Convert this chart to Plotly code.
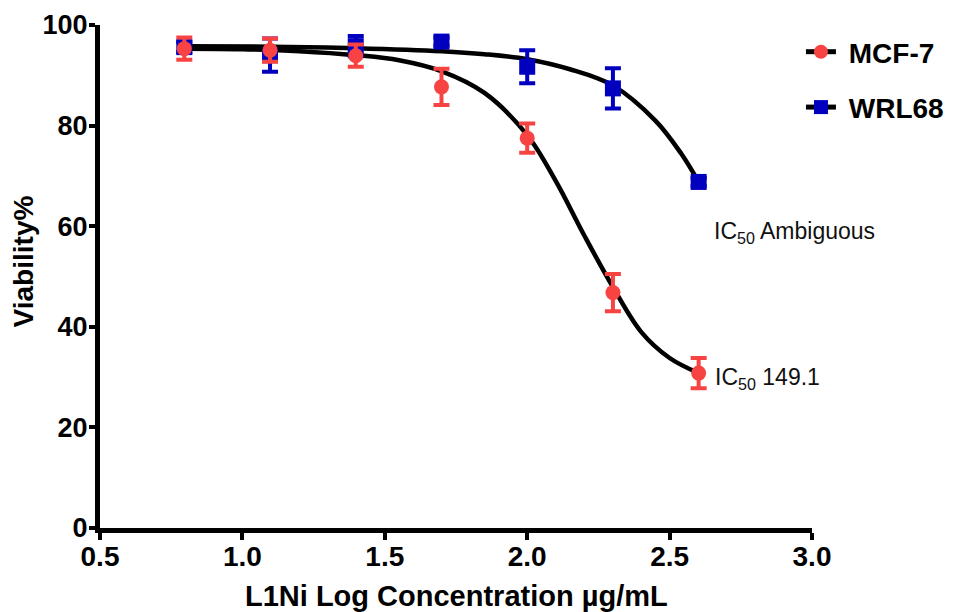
import plotly.graph_objects as go

# Measured points (log concentration, viability %, SEM)
log_conc = [0.796, 1.097, 1.398, 1.699, 2.0, 2.301, 2.602]

mcf7_y = [95.3, 95.0, 93.9, 87.7, 77.5, 46.8, 30.8]
mcf7_err = [2.2, 2.3, 2.2, 3.6, 2.9, 3.7, 3.0]

wrl68_y = [95.6, 94.0, 95.8, 96.7, 91.7, 87.4, 68.8]
wrl68_err = [1.0, 3.3, 2.0, 0.8, 3.3, 4.0, 0.8]

# Fitted curves
mcf7_fit_x = [0.796, 1.0, 1.2, 1.4, 1.55, 1.7, 1.85, 2.0, 2.1, 2.2, 2.3, 2.4, 2.5, 2.602]
mcf7_fit_y = [95.3, 95.2, 94.8, 94.0, 93.0, 90.8, 86.5, 78.1, 69.0, 58.2, 48.0, 39.0, 33.8, 30.8]

wrl68_fit_x = [0.796, 1.1, 1.4, 1.7, 1.85, 2.0, 2.15, 2.3, 2.45, 2.54, 2.602]
wrl68_fit_y = [95.8, 95.7, 95.4, 94.8, 94.2, 93.2, 91.2, 88.0, 81.0, 74.5, 68.8]

x_ticks = [0.5, 1.0, 1.5, 2.0, 2.5, 3.0]
y_ticks = [0, 20, 40, 60, 80, 100]

RED = "#F84343"
BLUE = "#0000BE"
FONT = "Liberation Sans, Arial, sans-serif"

fig = go.Figure()

# fit curves
fig.add_trace(go.Scatter(x=mcf7_fit_x, y=mcf7_fit_y, mode="lines",
                         line=dict(color="black", width=4.5, shape="spline"),
                         showlegend=False, hoverinfo="skip"))
fig.add_trace(go.Scatter(x=wrl68_fit_x, y=wrl68_fit_y, mode="lines",
                         line=dict(color="black", width=4.5, shape="spline"),
                         showlegend=False, hoverinfo="skip"))

# data points
fig.add_trace(go.Scatter(x=log_conc, y=wrl68_y, mode="markers",
                         marker=dict(symbol="square", size=16, color=BLUE),
                         error_y=dict(type="data", array=wrl68_err, color=BLUE,
                                      thickness=4, width=8),
                         showlegend=False))
fig.add_trace(go.Scatter(x=log_conc, y=mcf7_y, mode="markers",
                         marker=dict(symbol="circle", size=15, color=RED),
                         error_y=dict(type="data", array=mcf7_err, color=RED,
                                      thickness=4, width=8),
                         showlegend=False))

# legend entries
fig.add_trace(go.Scatter(x=[None], y=[None], mode="lines+markers", name="\u00a0MCF-7",
                         line=dict(color="black", width=5),
                         marker=dict(symbol="circle", size=14, color=RED),
                         legendgroup="a", legendrank=1))
fig.add_trace(go.Scatter(x=[None], y=[None], mode="lines+markers", name="\u00a0WRL68",
                         line=dict(color="black", width=5),
                         marker=dict(symbol="square", size=14, color=BLUE),
                         legendgroup="b", legendrank=2))

fig.add_annotation(x=2.65, y=58.8, xref="x", yref="y", xanchor="left",
                   text="IC<sub>50</sub> Ambiguous", showarrow=False,
                   font=dict(family=FONT, size=23, color="#111111"))
fig.add_annotation(x=2.652, y=29.8, xref="x", yref="y", xanchor="left",
                   text="IC<sub>50</sub> 149.1", showarrow=False,
                   font=dict(family=FONT, size=23, color="#111111"))

# axis titles
fig.add_annotation(x=0.5, y=0.0, xref="paper", yref="paper",
                   xanchor="center", yanchor="middle", yshift=-68,
                   text="L1Ni Log Concentration µg/mL", showarrow=False,
                   font=dict(family=FONT, size=29, color="black", weight="bold"))
fig.add_annotation(x=0.0, y=0.53, xref="paper", yref="paper",
                   xanchor="center", yanchor="middle", xshift=-77,
                   text="Viability%", textangle=-90, showarrow=False,
                   font=dict(family=FONT, size=28, color="black", weight="bold"))

fig.update_layout(
    width=955, height=612,
    margin=dict(l=100, r=143, t=25, b=84, autoexpand=False),
    paper_bgcolor="white", plot_bgcolor="white",
    font=dict(family=FONT, color="black"),
    legend=dict(xref="container", yref="container", x=0.8387, y=0.9559,
                xanchor="left", yanchor="top",
                font=dict(family=FONT, size=28, color="black", weight="bold"),
                itemwidth=30,
                tracegroupgap=16, bgcolor="rgba(0,0,0,0)"),
    xaxis=dict(range=[0.5, 3.0], tickvals=x_ticks,
               ticktext=[f"{v:.1f}" for v in x_ticks],
               showgrid=False, zeroline=False, showline=True,
               linecolor="black", linewidth=5, ticks="outside",
               ticklen=7, tickwidth=4, tickcolor="black", automargin=False,
               ticklabelstandoff=-8,
               tickfont=dict(family=FONT, size=28, weight="bold")),
    yaxis=dict(range=[0, 100], tickvals=y_ticks,
               showgrid=False, zeroline=False, showline=True,
               linecolor="black", linewidth=5, ticks="outside",
               ticklen=6, tickwidth=4, tickcolor="black", automargin=False,
               ticklabelstandoff=-4,
               tickfont=dict(family=FONT, size=27, weight="bold")),
)

fig.write_html("out.html")
